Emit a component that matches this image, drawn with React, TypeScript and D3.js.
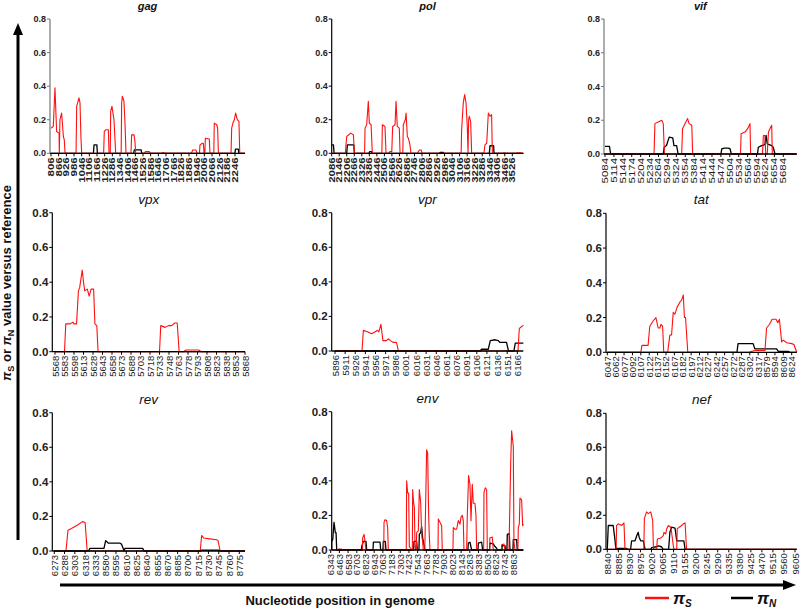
import React from 'react';
import * as d3 from 'd3';

type Pt = [number, number];

const Y_TICKS = [0, 0.2, 0.4, 0.6, 0.8];

const GAG_TICKS = [806, 866, 926, 986, 1046, 1106, 1166, 1226, 1286, 1346, 1406, 1466, 1526, 1586, 1646, 1706, 1766, 1826, 1886, 1946, 2006, 2066, 2126, 2186, 2246];
const POL_TICKS = [2086, 2146, 2206, 2266, 2326, 2386, 2446, 2506, 2566, 2626, 2686, 2746, 2806, 2866, 2926, 2986, 3046, 3106, 3166, 3226, 3286, 3346, 3406, 3466, 3526];
const VIF_TICKS = [5084, 5114, 5144, 5174, 5204, 5234, 5264, 5294, 5324, 5354, 5384, 5414, 5444, 5474, 5504, 5534, 5564, 5594, 5624, 5654, 5684];
const VPX_TICKS = [5568, 5583, 5598, 5613, 5628, 5643, 5658, 5673, 5688, 5703, 5718, 5733, 5748, 5763, 5778, 5793, 5808, 5823, 5838, 5853, 5868];
const VPR_TICKS = [5896, 5911, 5926, 5941, 5956, 5971, 5986, 6001, 6016, 6031, 6046, 6061, 6076, 6091, 6106, 6121, 6136, 6151, 6166];
const TAT_TICKS = [6047, 6062, 6077, 6092, 6107, 6122, 6137, 6152, 6167, 6182, 6197, 6212, 6227, 6242, 6257, 6272, 6287, 6302, 6317, 8579, 8594, 8609, 8624];
const REV_TICKS = [6273, 6288, 6303, 6318, 6333, 8580, 8595, 8610, 8625, 8640, 8655, 8670, 8685, 8700, 8715, 8730, 8745, 8760, 8775];
const ENV_TICKS = [6343, 6463, 6583, 6703, 6823, 6943, 7063, 7183, 7303, 7423, 7543, 7663, 7783, 7903, 8023, 8143, 8263, 8383, 8503, 8623, 8743, 8863];
const NEF_TICKS = [8840, 8885, 8930, 8975, 9020, 9065, 9110, 9155, 9200, 9245, 9290, 9335, 9380, 9425, 9470, 9515, 9560, 9605];

const GAG_PI_S: Pt[] = [
  [806, 0.15], [824, 0.16], [837, 0.39], [850, 0.13], [869, 0.12], [871, 0], [876, 0.2], [889, 0.24], [903, 0.1], [910, 0.08], [916, 0],
  [1002, 0], [1007, 0.28], [1025, 0.33], [1033, 0.3], [1040, 0.1], [1046, 0],
  [1218, 0], [1223, 0.13], [1235, 0.14], [1255, 0.14], [1260, 0],
  [1270, 0], [1273, 0.25], [1283, 0.28], [1299, 0.2], [1312, 0],
  [1355, 0], [1359, 0.3], [1364, 0.34], [1377, 0.31], [1385, 0.18], [1393, 0],
  [1432, 0], [1437, 0.11], [1456, 0.11], [1463, 0.07], [1469, 0],
  [1536, 0], [1545, 0.01], [1575, 0.01], [1585, 0],
  [1670, 0], [1685, 0.005], [1700, 0],
  [1905, 0], [1915, 0.02], [1940, 0.02], [1950, 0],
  [1968, 0], [1972, 0.05], [1990, 0.06], [1998, 0.06], [2004, 0],
  [2010, 0], [2014, 0.09], [2045, 0.085], [2050, 0],
  [2080, 0], [2084, 0.18], [2103, 0.17], [2110, 0.15], [2116, 0],
  [2215, 0], [2220, 0.15], [2230, 0.18], [2241, 0.2], [2251, 0.24], [2264, 0.2], [2277, 0.19], [2283, 0],
];
const GAG_PI_N: Pt[] = [
  [1138, 0], [1143, 0.05], [1165, 0.05], [1169, 0],
  [1453, 0], [1458, 0.02], [1512, 0.02], [1516, 0],
  [2245, 0], [2250, 0.025], [2272, 0.025], [2276, 0],
];

const POL_PI_S: Pt[] = [
  [2195, 0], [2200, 0.05], [2206, 0.1], [2237, 0.12], [2259, 0.11], [2267, 0],
  [2348, 0], [2352, 0.15], [2365, 0.17], [2378, 0.31], [2386, 0.18], [2400, 0.17], [2410, 0],
  [2486, 0], [2490, 0.17], [2511, 0.16], [2519, 0],
  [2540, 0], [2550, 0.01], [2565, 0.01], [2572, 0.16], [2591, 0.17], [2599, 0.31], [2609, 0.16], [2625, 0.15], [2631, 0],
  [2653, 0], [2657, 0.17], [2673, 0.2], [2679, 0.24], [2689, 0.1], [2697, 0.09], [2710, 0.05], [2718, 0],
  [2770, 0], [2785, 0.02], [2800, 0.02], [2808, 0],
  [3118, 0], [3122, 0.14], [3135, 0.3], [3146, 0.35], [3157, 0.3], [3167, 0.16], [3173, 0], [3178, 0.2], [3183, 0.22], [3194, 0.19], [3202, 0],
  [3300, 0], [3308, 0.05], [3322, 0.06], [3335, 0.24], [3348, 0.22], [3361, 0.23], [3367, 0],
  [3450, 0], [3460, 0.003], [3475, 0], [3555, 0], [3565, 0.003], [3590, 0.003], [3600, 0],
];
const POL_PI_N: Pt[] = [
  [2086, 0.05], [2100, 0.05], [2105, 0],
  [2206, 0], [2211, 0.05], [2262, 0.05], [2267, 0],
  [2384, 0], [2388, 0.01], [2404, 0.01], [2408, 0],
  [2945, 0], [2950, 0.005], [2976, 0.005], [2980, 0],
  [3343, 0], [3348, 0.045], [3377, 0.045], [3380, 0],
];

const VIF_PI_S: Pt[] = [
  [5249, 0], [5252, 0.18], [5263, 0.19], [5275, 0.2], [5280, 0.18], [5284, 0],
  [5342, 0], [5345, 0.15], [5359, 0.2], [5362, 0.21], [5367, 0.18], [5376, 0.17], [5379, 0],
  [5540, 0], [5542, 0.12], [5555, 0.13], [5564, 0.15], [5572, 0.18], [5574, 0],
  [5614, 0], [5617, 0.11], [5622, 0.11], [5625, 0], [5630, 0], [5634, 0.13], [5639, 0.15], [5645, 0.17], [5647, 0],
];
const VIF_PI_N: Pt[] = [
  [5084, 0.045], [5099, 0.045], [5103, 0],
  [5280, 0], [5283, 0.04], [5291, 0.05], [5300, 0.1], [5312, 0.095], [5316, 0.05], [5325, 0.05], [5330, 0],
  [5474, 0], [5477, 0.03], [5485, 0.035], [5499, 0.035], [5505, 0.03], [5509, 0],
  [5597, 0], [5600, 0.04], [5611, 0.05], [5622, 0.055], [5626, 0.11], [5630, 0.06], [5645, 0.05], [5650, 0.04], [5656, 0],
];

const VPX_PI_S: Pt[] = [
  [5583, 0], [5585, 0.16], [5592, 0.16], [5596, 0.17], [5598, 0.16], [5602, 0.16], [5605, 0.35], [5607, 0.37], [5611, 0.47], [5613, 0.4], [5615, 0.35], [5619, 0.36], [5622, 0.32], [5625, 0.36], [5629, 0.36], [5631, 0.16], [5634, 0.15], [5636, 0],
  [5733, 0], [5735, 0.15], [5742, 0.14], [5747, 0.15], [5752, 0.15], [5757, 0.165], [5761, 0.165], [5764, 0],
  [5771, 0], [5775, 0.01], [5795, 0.01], [5799, 0],
];
const VPX_PI_N: Pt[] = [];

const VPR_PI_S: Pt[] = [
  [5936, 0], [5938, 0.12], [5945, 0.11], [5950, 0.1], [5955, 0.11], [5959, 0.12], [5961, 0.11], [5964, 0.155], [5967, 0.06], [5972, 0.06], [5975, 0.07], [5978, 0.06], [5982, 0.05], [5987, 0.05], [5990, 0],
  [6167, 0], [6169, 0.13], [6175, 0.15],
];
const VPR_PI_N: Pt[] = [
  [6111, 0], [6113, 0.01], [6123, 0.01], [6126, 0.06], [6133, 0.065], [6138, 0.06], [6140, 0.05], [6150, 0.05], [6153, 0],
  [6161, 0], [6163, 0.045], [6175, 0.045],
];

const TAT_PI_S: Pt[] = [
  [6107, 0], [6109, 0.04], [6120, 0.04], [6123, 0.15], [6129, 0.18], [6134, 0.2], [6138, 0.14], [6141, 0.14], [6143, 0.16], [6146, 0.15], [6148, 0],
  [6155, 0], [6159, 0.1], [6162, 0.1], [6165, 0.23], [6168, 0.22], [6172, 0.26], [6177, 0.29], [6180, 0.3], [6183, 0.33], [6185, 0.2], [6187, 0.2], [6191, 0],
  [6300, 0], [6311, 0.01], [8150, 0.01], [8579, 0.14], [8584, 0.16], [8589, 0.19], [8596, 0.19], [8599, 0.17], [8602, 0.19], [8606, 0.06], [8609, 0.07], [8615, 0.055], [8624, 0.05], [8628, 0.045], [8633, 0],
];
const TAT_PI_N: Pt[] = [
  [6279, 0], [6281, 0.05], [6308, 0.05], [6311, 0.02], [8597, 0.02], [8600, 0.005], [8618, 0.005], [8621, 0],
];

const REV_PI_S: Pt[] = [
  [6290, 0], [6293, 0.12], [6298, 0.13], [6307, 0.15], [6314, 0.17], [6318, 0.165], [6321, 0],
  [8718, 0], [8720, 0.09], [8723, 0.075], [8732, 0.07], [8742, 0.065], [8744, 0.06], [8747, 0],
];
const REV_PI_N: Pt[] = [
  [6323, 0], [6325, 0.015], [8198, 0.015], [8580, 0.06], [8584, 0.045], [8601, 0.045], [8603, 0.04], [8607, 0], [8608, 0.015], [8634, 0.015], [8636, 0],
  [8718, 0], [8720, 0.005], [8745, 0.005], [8748, 0],
];

const ENV_PI_S: Pt[] = [
  [6440, 0], [6449, 0.005], [6495, 0.005], [6500, 0],
  [6780, 0], [6784, 0.07], [6803, 0.09], [6817, 0.05], [6830, 0],
  [7075, 0], [7079, 0.16], [7092, 0.175], [7115, 0.17], [7129, 0.13], [7138, 0],
  [7386, 0], [7391, 0.4], [7405, 0.33], [7419, 0.33], [7428, 0.02], [7447, 0.01], [7460, 0],
  [7470, 0], [7474, 0.35], [7488, 0.27], [7497, 0.25], [7506, 0.04], [7515, 0],
  [7525, 0], [7529, 0.1], [7552, 0.11], [7566, 0.35], [7584, 0.28], [7594, 0.15], [7603, 0.07], [7612, 0.05], [7621, 0],
  [7640, 0], [7644, 0.05], [7667, 0.58], [7681, 0.56], [7695, 0.2], [7704, 0.08], [7713, 0],
  [7824, 0], [7828, 0.18], [7851, 0.16], [7874, 0.14], [7883, 0],
  [8030, 0], [8035, 0.13], [8058, 0.12], [8081, 0.12], [8104, 0.17], [8127, 0.15], [8141, 0.19], [8159, 0.2], [8173, 0.17], [8182, 0],
  [8219, 0], [8228, 0.2], [8246, 0.43], [8265, 0.38], [8279, 0.17], [8297, 0.38], [8311, 0.27], [8334, 0.27], [8348, 0.2], [8357, 0],
  [8454, 0], [8458, 0.33], [8476, 0.36], [8495, 0.35], [8504, 0],
  [8536, 0], [8540, 0.07], [8573, 0.075], [8587, 0],
  [8698, 0], [8702, 0.03], [8734, 0.035], [8748, 0],
  [8803, 0], [8808, 0.1], [8827, 0.5], [8840, 0.69], [8863, 0.6], [8872, 0.05], [8886, 0],
  [8927, 0], [8932, 0.13], [8946, 0.15], [8955, 0.3], [8978, 0.29], [8992, 0.14], [9001, 0.15],
];
const ENV_PI_N: Pt[] = [
  [6343, 0], [6357, 0.05], [6371, 0.06], [6389, 0.16], [6407, 0.1], [6417, 0.1], [6426, 0],
  [6766, 0], [6771, 0.02], [6794, 0.05], [6830, 0.05], [6840, 0],
  [6927, 0], [6932, 0.045], [7024, 0.045], [7033, 0],
  [7064, 0], [7069, 0.05], [7097, 0.05], [7106, 0],
  [7488, 0], [7493, 0.05], [7529, 0.05], [7539, 0],
  [7561, 0], [7566, 0.09], [7584, 0.1], [7598, 0.135], [7612, 0.07], [7621, 0.05], [7635, 0.02], [7644, 0],
  [8237, 0], [8242, 0.04], [8265, 0.045], [8288, 0],
  [8375, 0], [8380, 0.04], [8426, 0.045], [8440, 0],
  [8536, 0], [8540, 0.04], [8587, 0.035], [8610, 0.02], [8633, 0.01], [8647, 0],
  [8706, 0], [8711, 0.025], [8748, 0.025], [8757, 0],
  [8775, 0], [8780, 0.09], [8808, 0.095], [8817, 0],
  [8858, 0], [8863, 0.06], [8909, 0.06], [8918, 0],
];

const NEF_PI_S: Pt[] = [
  [8876, 0], [8878, 0.14], [8885, 0.15], [8898, 0.14], [8908, 0.155], [8912, 0],
  [8989, 0], [8991, 0.18], [9000, 0.22], [9007, 0.21], [9017, 0.22], [9025, 0.17], [9028, 0],
  [9041, 0], [9044, 0.06], [9055, 0.065], [9061, 0.07], [9068, 0.08], [9071, 0.1], [9078, 0.09], [9082, 0.12], [9089, 0.14], [9098, 0.13], [9102, 0.1], [9109, 0.02], [9112, 0],
  [9123, 0], [9125, 0.12], [9133, 0.13], [9143, 0.14], [9150, 0.15], [9157, 0.155], [9163, 0],
];
const NEF_PI_N: Pt[] = [
  [8840, 0], [8844, 0.14], [8864, 0.14], [8871, 0.06], [8875, 0], [8878, 0.005], [8919, 0.005], [8922, 0],
  [8935, 0], [8939, 0.05], [8953, 0.05], [8960, 0.08], [8966, 0.1], [8970, 0.07], [8976, 0.05], [8987, 0.05], [8994, 0],
  [9017, 0], [9021, 0.01], [9041, 0.015], [9048, 0.02], [9061, 0.015], [9068, 0],
  [9090, 0], [9095, 0.1], [9102, 0.13], [9116, 0.125], [9123, 0.05], [9152, 0.05], [9157, 0],
];

const FONT = "'Liberation Sans', Arial, Helvetica, sans-serif";
const RED = '#ff1010';

interface Layout { axisX: number; firstTickX: number; lastTickX: number; endX: number; y0: number; yTop: number; row: number; axisColor?: string; bold?: boolean }
interface PanelCfg { name: string; ticks: number[]; piS: Pt[]; piN: Pt[]; layout: Layout }

const PANELS: PanelCfg[] = [
  { name: 'gag', ticks: GAG_TICKS, piS: GAG_PI_S, piN: GAG_PI_N, layout: { axisX: 50, firstTickX: 51, lastTickX: 235, endX: 245, y0: 153.3, yTop: 19, row: 0, axisColor: '#777', bold: true } },
  { name: 'pol', ticks: POL_TICKS, piS: POL_PI_S, piN: POL_PI_N, layout: { axisX: 331.7, firstTickX: 331.7, lastTickX: 512.3, endX: 523.3, y0: 153.3, yTop: 19, row: 0, bold: true } },
  { name: 'vif', ticks: VIF_TICKS, piS: VIF_PI_S, piN: VIF_PI_N, layout: { axisX: 604, firstTickX: 605, lastTickX: 783.3, endX: 796.7, y0: 154, yTop: 19, row: 0, axisColor: '#777', bold: false } },
  { name: 'vpx', ticks: VPX_TICKS, piS: VPX_PI_S, piN: VPX_PI_N, layout: { axisX: 52.3, firstTickX: 55, lastTickX: 245, endX: 245, y0: 351.7, yTop: 212.7, row: 1 } },
  { name: 'vpr', ticks: VPR_TICKS, piS: VPR_PI_S, piN: VPR_PI_N, layout: { axisX: 331.7, firstTickX: 335, lastTickX: 517.3, endX: 523.3, y0: 351, yTop: 212.7, row: 1 } },
  { name: 'tat', ticks: TAT_TICKS, piS: TAT_PI_S, piN: TAT_PI_N, layout: { axisX: 606, firstTickX: 607.3, lastTickX: 791.7, endX: 796.7, y0: 352.3, yTop: 213.3, row: 1 } },
  { name: 'rev', ticks: REV_TICKS, piS: REV_PI_S, piN: REV_PI_N, layout: { axisX: 52.3, firstTickX: 54.3, lastTickX: 239.3, endX: 245, y0: 551, yTop: 412.7, row: 2 } },
  { name: 'env', ticks: ENV_TICKS, piS: ENV_PI_S, piN: ENV_PI_N, layout: { axisX: 331.7, firstTickX: 330.7, lastTickX: 513.3, endX: 523.3, y0: 550, yTop: 411.7, row: 2 } },
  { name: 'nef', ticks: NEF_TICKS, piS: NEF_PI_S, piN: NEF_PI_N, layout: { axisX: 606, firstTickX: 607.3, lastTickX: 795, endX: 796.7, y0: 549.3, yTop: 413.3, row: 2 } },
];

function Panel({ cfg }: { cfg: PanelCfg }) {
  const { ticks, piS, piN, layout: L, name } = cfg;
  const n = ticks.length;
  const step = (L.lastTickX - L.firstTickX) / (n - 1);
  const x = d3.scaleLinear().domain(ticks).range(ticks.map((_, i) => L.firstTickX + i * step));
  const y = d3.scaleLinear().domain([0, 0.8]).range([L.y0, L.yTop]);
  const xStart = x.invert(Math.max(L.axisX, L.firstTickX - 0.01));
  const xStartPx = L.axisX;
  const xEnd = x.invert(L.endX);
  const extend = (pts: Pt[]): Pt[] => {
    if (pts.length === 0) return [[xStart, 0], [xEnd, 0]];
    const out = pts.slice();
    if (out[0][0] > xStart) out.unshift([xStart, out[0][1]]);
    if (out[out.length - 1][0] < xEnd) out.push([xEnd, out[out.length - 1][1]]);
    return out;
  };
  const line = d3.line<Pt>().x(d => Math.max(xStartPx, x(d[0]))).y(d => y(d[1]));
  const row0 = L.row === 0;
  const tickFont = row0 ? 8.5 : 9.5;
  const labelStretch = row0 ? 1.35 : 1;
  const yFont = row0 ? 9 : 11.5;
  const fmt = d3.format('.1f');
  const axisColor = L.axisColor ?? '#000';
  return (
    <g fontFamily={FONT}>
      <text x={(L.axisX + L.endX) / 2} y={L.yTop - 9} textAnchor="middle" fontStyle="italic" fontWeight={row0 ? 'bold' : 'normal'} fontSize={row0 ? 11 : 13.5} fill="#111">{name}</text>
      <path d={line(extend(piN)) ?? ''} fill="none" stroke="#000" strokeWidth={1.3} strokeLinejoin="round" />
      <path d={line(extend(piS)) ?? ''} fill="none" stroke={RED} strokeWidth={1.1} strokeLinejoin="round" />
      <line x1={L.axisX} x2={L.axisX} y1={L.y0} y2={L.yTop} stroke={axisColor} strokeWidth={1.2} />
      <line x1={L.axisX} x2={L.endX} y1={L.y0} y2={L.y0} stroke="#000" strokeWidth={1.3} />
      {Y_TICKS.map(v => (
        <g key={v}>
          <line x1={L.axisX - 3} x2={L.axisX} y1={y(v)} y2={y(v)} stroke={axisColor} strokeWidth={1} />
          <text x={L.axisX - 4} y={y(v)} textAnchor="end" dominantBaseline="central" fontSize={yFont} fontWeight="bold" fill="#222">{fmt(v)}</text>
        </g>
      ))}
      {ticks.map(t => (
        <g key={t}>
          <line x1={x(t)} x2={x(t)} y1={L.y0} y2={L.y0 + 3} stroke="#000" strokeWidth={1} />
          <text transform={`translate(${x(t)},${L.y0 + 4}) rotate(-90) scale(${labelStretch},1)`} textAnchor="end" dominantBaseline="central" fontSize={tickFont} fontWeight={L.bold ? 'bold' : 'normal'} fill="#222">{t}</text>
        </g>
      ))}
    </g>
  );
}

export default function App() {
  return (
    <svg width={800} height={612} viewBox="0 0 800 612" style={{ position: 'absolute', left: 0, top: 0, background: '#fff' }}>
      <rect x={0} y={0} width={800} height={612} fill="#fff" />
      {PANELS.map(p => <Panel key={p.name} cfg={p} />)}
      <line x1={18} x2={18} y1={540} y2={32} stroke="#000" strokeWidth={3} />
      <polygon points="18,23 13,35 23,35" fill="#000" />
      <text transform="translate(11,283) rotate(-90)" textAnchor="middle" fontFamily={FONT} fontWeight="bold" fontSize={13} fill="#111">
        <tspan fontStyle="italic">π</tspan><tspan fontSize={9} dy={3}>S</tspan><tspan dy={-3}> or </tspan>
        <tspan fontStyle="italic">π</tspan><tspan fontSize={9} dy={3}>N</tspan><tspan dy={-3}> value versus reference</tspan>
      </text>
      <line x1={60} x2={784} y1={585} y2={585} stroke="#000" strokeWidth={3} />
      <polygon points="796,585 783,580 783,590" fill="#000" />
      <text x={340} y={605} textAnchor="middle" fontFamily={FONT} fontWeight="bold" fontSize={13} fill="#111">Nucleotide position in genome</text>
      <line x1={645} x2={669} y1={598} y2={598} stroke={RED} strokeWidth={2.5} />
      <text x={673} y={604} fontFamily={FONT} fontWeight="bold" fontSize={17} fill="#111">
        <tspan fontStyle="italic">π</tspan><tspan fontSize={10} dy={3} fontStyle="italic">S</tspan>
      </text>
      <line x1={731} x2={753} y1={598} y2={598} stroke="#000" strokeWidth={2.5} />
      <text x={757} y={604} fontFamily={FONT} fontWeight="bold" fontSize={17} fill="#111">
        <tspan fontStyle="italic">π</tspan><tspan fontSize={10} dy={3} fontStyle="italic">N</tspan>
      </text>
    </svg>
  );
}
